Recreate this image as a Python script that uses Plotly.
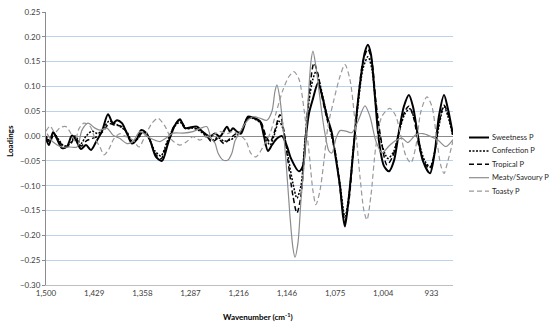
import plotly.graph_objects as go

# ---------------- data (wavenumber cm-1, loading) ----------------
sweet_wn = [1500.0, 1495.6, 1489.7, 1483.8, 1476.5, 1469.2, 1461.8, 1455.9, 1448.6, 1441.2,
            1433.9, 1426.6, 1417.7, 1408.9, 1401.6, 1395.7, 1388.4, 1381.0, 1373.7, 1366.4,
            1360.4, 1353.1, 1347.2, 1338.4, 1329.6, 1320.8, 1310.5, 1303.2, 1295.8, 1287.0,
            1278.2, 1272.3, 1266.4, 1259.1, 1251.7, 1244.4, 1234.1, 1229.7, 1225.3, 1219.4,
            1213.5, 1203.3, 1193.0, 1185.6, 1179.8, 1173.9, 1168.0, 1160.7, 1153.3, 1146.0,
            1140.1, 1128.4, 1122.5, 1118.1, 1113.7, 1107.8, 1100.4, 1094.6, 1087.2, 1079.9,
            1075.5, 1068.1, 1063.7, 1060.8, 1056.4, 1050.5, 1043.2, 1037.3, 1031.4, 1027.0,
            1022.6, 1016.7, 1010.8, 1003.5, 996.1, 988.8, 981.3, 974.1, 966.8, 960.9,
            953.5, 946.2, 935.9, 928.6, 922.7, 915.2, 909.5, 902.1]
sweet_val = [-0.005, -0.018, 0.008, -0.006, -0.024, -0.021, 0.001, -0.008, -0.026, -0.018,
             -0.028, -0.012, 0.010, 0.044, 0.026, 0.032, 0.026, 0.005, -0.015, -0.006,
             0.012, 0.007, -0.008, -0.042, -0.050, -0.015, 0.022, 0.034, 0.016, 0.018,
             0.019, 0.012, 0.005, -0.001, 0.005, -0.001, 0.019, 0.009, 0.016, 0.009,
             0.005, 0.039, 0.036, 0.030, 0.000, -0.030, -0.018, -0.005, 0.000, -0.020,
             -0.045, -0.071, -0.060, 0.000, 0.045, 0.075, 0.107, 0.083, 0.040, 0.006,
             -0.034, -0.100, -0.160, -0.182, -0.140, -0.060, 0.050, 0.120, 0.170, 0.184,
             0.165, 0.080, -0.010, -0.060, -0.071, -0.050, 0.010, 0.060, 0.083, 0.060,
             0.000, -0.050, -0.075, -0.030, 0.040, 0.083, 0.055, 0.003]

conf_wn = [1500.0, 1494.1, 1488.3, 1480.9, 1473.6, 1464.7, 1457.4, 1448.6, 1441.2, 1432.4,
           1423.6, 1414.8, 1407.5, 1398.6, 1389.8, 1381.0, 1373.7, 1364.9, 1357.5, 1348.7,
           1339.9, 1331.1, 1322.3, 1312.0, 1303.2, 1294.4, 1284.1, 1273.8, 1265.0, 1256.2,
           1247.3, 1238.5, 1229.7, 1220.9, 1213.5, 1203.3, 1193.0, 1184.2, 1176.8, 1170.9,
           1165.1, 1157.7, 1151.9, 1144.5, 1137.2, 1131.3, 1125.4, 1119.6, 1113.7, 1107.8,
           1103.4, 1097.5, 1090.2, 1082.8, 1075.5, 1068.1, 1060.8, 1054.9, 1049.0, 1041.7,
           1034.4, 1027.0, 1021.1, 1015.3, 1007.9, 997.6, 988.8, 979.9, 972.6, 965.3,
           957.9, 950.6, 943.3, 935.9, 928.6, 922.7, 915.2, 909.5, 902.1]
conf_val = [0.000, -0.010, 0.005, -0.008, -0.020, -0.015, 0.000, -0.015, 0.000, 0.010,
            0.005, 0.018, 0.030, 0.025, 0.018, 0.008, -0.010, -0.005, 0.008, -0.005,
            -0.030, -0.040, -0.012, 0.018, 0.028, 0.015, 0.016, 0.010, 0.000, -0.008,
            -0.003, -0.010, -0.008, 0.000, 0.010, 0.037, 0.034, 0.025, -0.005, -0.018,
            0.000, 0.030, 0.015, -0.040, -0.095, -0.125, -0.100, -0.010, 0.070, 0.115,
            0.130, 0.105, 0.060, 0.015, -0.030, -0.095, -0.162, -0.120, -0.030, 0.060,
            0.135, 0.160, 0.135, 0.060, -0.010, -0.045, -0.030, 0.015, 0.045, 0.055,
            0.030, -0.020, -0.050, -0.062, -0.030, 0.020, 0.060, 0.040, 0.000]

trop_wn = [1500.0, 1494.1, 1488.3, 1480.9, 1473.6, 1464.7, 1457.4, 1448.6, 1441.2, 1432.4,
           1423.6, 1414.8, 1407.5, 1398.6, 1389.8, 1381.0, 1373.7, 1364.9, 1357.5, 1348.7,
           1339.9, 1331.1, 1322.3, 1312.0, 1303.2, 1294.4, 1284.1, 1273.8, 1265.0, 1256.2,
           1247.3, 1238.5, 1229.7, 1220.9, 1213.5, 1203.3, 1193.0, 1184.2, 1176.8, 1170.9,
           1165.1, 1156.3, 1150.4, 1144.5, 1137.2, 1131.3, 1125.4, 1119.6, 1113.7, 1106.3,
           1100.4, 1094.6, 1087.2, 1079.9, 1074.0, 1066.7, 1060.8, 1054.9, 1049.0, 1041.7,
           1034.4, 1027.0, 1021.1, 1015.3, 1007.9, 999.0, 990.3, 981.3, 972.6, 966.8,
           959.4, 952.1, 943.3, 935.9, 928.6, 922.7, 915.2, 909.5, 902.1]
trop_val = [-0.003, -0.012, 0.004, -0.010, -0.022, -0.018, -0.002, -0.020, -0.010, -0.005,
            0.000, 0.012, 0.025, 0.022, 0.020, 0.006, -0.012, -0.005, 0.010, -0.004,
            -0.035, -0.046, -0.015, 0.020, 0.032, 0.017, 0.017, 0.012, 0.002, -0.012,
            -0.005, -0.015, -0.005, 0.005, 0.008, 0.036, 0.035, 0.028, 0.000, -0.012,
            0.005, 0.043, 0.010, -0.050, -0.120, -0.155, -0.120, -0.020, 0.080, 0.147,
            0.125, 0.080, 0.035, 0.000, -0.040, -0.120, -0.172, -0.130, -0.040, 0.070,
            0.150, 0.175, 0.150, 0.070, -0.005, -0.058, -0.040, 0.010, 0.050, 0.060,
            0.035, -0.020, -0.055, -0.065, -0.030, 0.025, 0.062, 0.045, 0.002]

meaty_wn = [1498.5, 1489.7, 1476.5, 1464.7, 1454.5, 1447.1, 1438.3, 1428.0, 1420.7, 1410.4,
            1401.6, 1391.3, 1381.0, 1372.2, 1361.9, 1347.2, 1332.5, 1323.7, 1313.4, 1298.8,
            1284.1, 1272.3, 1263.5, 1257.6, 1251.7, 1247.3, 1240.0, 1232.6, 1226.8, 1222.4,
            1215.0, 1204.7, 1195.9, 1185.6, 1175.4, 1168.0, 1163.6, 1160.7, 1156.3, 1151.9,
            1147.4, 1141.6, 1137.2, 1134.2, 1129.8, 1125.4, 1121.0, 1115.1, 1110.7, 1107.8,
            1103.4, 1099.0, 1094.6, 1090.2, 1084.3, 1079.9, 1074.0, 1068.1, 1059.3, 1050.5,
            1041.7, 1031.4, 1024.1, 1015.3, 1006.4, 996.1, 987.3, 977.0, 968.2, 956.5,
            946.2, 935.9, 924.2, 912.4, 902.1]
meaty_val = [0.005, -0.012, -0.022, -0.022, -0.022, 0.012, 0.026, 0.016, 0.012, 0.016,
             0.002, -0.005, -0.015, -0.011, 0.009, -0.004, -0.011, -0.004, 0.006, 0.006,
             0.009, 0.016, 0.019, -0.004, -0.014, -0.034, -0.048, -0.048, -0.034, -0.010,
             0.008, 0.030, 0.039, 0.036, 0.032, 0.050, 0.090, 0.103, 0.075, 0.020,
             -0.050, -0.160, -0.225, -0.244, -0.215, -0.130, -0.060, 0.067, 0.150, 0.171,
             0.140, 0.093, 0.045, 0.006, -0.030, -0.034, -0.005, 0.011, 0.010, 0.007,
             0.030, 0.061, 0.040, -0.010, -0.034, -0.020, -0.010, -0.004, -0.013, 0.003,
             0.005, 0.000, -0.008, -0.021, -0.007]

toasty_wn = [1500.0, 1494.1, 1486.8, 1479.4, 1470.6, 1463.3, 1457.4, 1451.5, 1444.2, 1435.4,
             1428.0, 1420.7, 1414.8, 1407.5, 1400.1, 1391.3, 1383.9, 1372.2, 1363.4, 1354.6,
             1344.3, 1335.5, 1325.2, 1314.9, 1303.2, 1292.9, 1284.1, 1273.8, 1263.5, 1254.7,
             1244.4, 1234.1, 1225.3, 1215.0, 1206.2, 1198.9, 1191.5, 1181.2, 1170.9, 1162.1,
             1151.9, 1143.0, 1135.7, 1128.4, 1121.0, 1113.7, 1107.8, 1103.4, 1097.5, 1091.6,
             1085.8, 1077.0, 1068.1, 1060.8, 1053.4, 1046.1, 1038.8, 1032.9, 1028.5, 1022.6,
             1015.3, 1006.4, 994.7, 985.9, 978.5, 971.2, 963.8, 956.5, 949.1, 940.3,
             933.0, 925.6, 919.8, 915.2, 909.5, 902.1]
toasty_val = [0.010, 0.020, 0.007, 0.017, 0.019, 0.005, -0.010, 0.015, 0.026, 0.020,
              -0.005, -0.022, -0.038, -0.026, -0.005, 0.005, 0.000, -0.008, -0.022, 0.000,
              0.026, 0.036, 0.020, -0.008, -0.018, -0.011, -0.001, -0.008, -0.001, 0.002,
              0.009, 0.005, 0.009, 0.002, -0.010, -0.035, -0.042, -0.022, 0.005, 0.046,
              0.093, 0.120, 0.130, 0.115, 0.055, -0.030, -0.110, -0.138, -0.110, -0.050,
              0.019, 0.073, 0.120, 0.144, 0.114, 0.030, -0.080, -0.150, -0.169, -0.120,
              -0.020, 0.040, 0.056, 0.040, 0.000, -0.040, -0.054, -0.020, 0.050, 0.079,
              0.060, -0.010, -0.060, -0.075, -0.050, -0.010]

tick_labels = ["1,500", "1,429", "1,358", "1,287", "1,216", "1,146", "1,075", "1,004", "933"]
tick_vals = [1500, 1429.2, 1358.4, 1287.6, 1216.8, 1146.0, 1075.2, 1004.4, 933.6]

FONT = "Lato"

series = [
    ("Sweetness P", sweet_wn, sweet_val, dict(color="black", width=2.0, dash="solid")),
    ("Confection P", conf_wn, conf_val, dict(color="black", width=1.5, dash="2px,1.5px")),
    ("Tropical P", trop_wn, trop_val, dict(color="black", width=1.5, dash="5px,3px")),
    ("Meaty/Savoury P", meaty_wn, meaty_val, dict(color="#8c8c8c", width=1.2, dash="solid")),
    ("Toasty P", toasty_wn, toasty_val, dict(color="#999999", width=1.2, dash="5px,3px")),
]

L, R, T, B = 46, 97, 12, 39
W, H = 550, 324
pw, ph = W - L - R, H - T - B


def px(x):
    return (x - L) / pw


def py(y):
    return (H - B - y) / ph


fig = go.Figure()
for name, xs, ys, ln in series:
    fig.add_trace(go.Scatter(x=xs, y=ys, mode="lines", name=name, showlegend=False,
                             line=dict(shape="spline", smoothing=0.8, **ln)))

# legend drawn at the right (sample line + label)
shapes, annotations = [], []
for i, (name, _, _, ln) in enumerate(series):
    yy = 137.5 + 13.4 * i
    shapes.append(dict(type="line", xref="paper", yref="paper",
                       x0=px(469), x1=px(489), y0=py(yy), y1=py(yy),
                       line=dict(color=ln["color"], width=ln["width"], dash=ln["dash"])))
    annotations.append(dict(text=name, x=px(490), y=py(yy), xref="paper", yref="paper",
                            xanchor="left", yanchor="middle", showarrow=False,
                            font=dict(family=FONT, size=7.5, color="#262626")))

annotations.append(dict(text="<b>Wavenumber (cm<sup>-1</sup>)</b>",
                        x=px(258), y=py(316), xref="paper", yref="paper",
                        xanchor="center", yanchor="middle",
                        showarrow=False, font=dict(family=FONT, size=8, color="black")))
annotations.append(dict(text="<b>Loadings</b>",
                        x=px(10), y=py(141), xref="paper", yref="paper",
                        xanchor="center", yanchor="middle", textangle=-90,
                        showarrow=False, font=dict(family=FONT, size=8, color="black")))

fig.update_layout(
    width=W, height=H,
    margin=dict(l=L, r=R, t=T, b=B, autoexpand=False),
    paper_bgcolor="white", plot_bgcolor="white",
    font=dict(family=FONT, size=8, color="#404040"),
    showlegend=False,
    xaxis=dict(range=[1500, 902], tickvals=tick_vals, ticktext=tick_labels,
               showgrid=False, zeroline=False, showline=True, linecolor="#bfbfbf",
               linewidth=1, ticks="", tickfont=dict(size=8, color="#404040")),
    yaxis=dict(range=[-0.30, 0.25], dtick=0.05, tick0=0, tickformat=".2f",
               showgrid=True, gridcolor="#bcd2ec", gridwidth=1,
               zeroline=True, zerolinecolor="#8c8c8c", zerolinewidth=1,
               showline=True, linecolor="#8c8c8c", linewidth=1,
               ticks="outside", ticklen=3, tickcolor="#8c8c8c",
               tickfont=dict(size=8, color="#404040")),
    shapes=shapes,
    annotations=annotations,
)

fig.write_html("out.html", config={"displayModeBar": False},
               post_script="document.body.style.margin='0';document.body.style.padding='0';")
